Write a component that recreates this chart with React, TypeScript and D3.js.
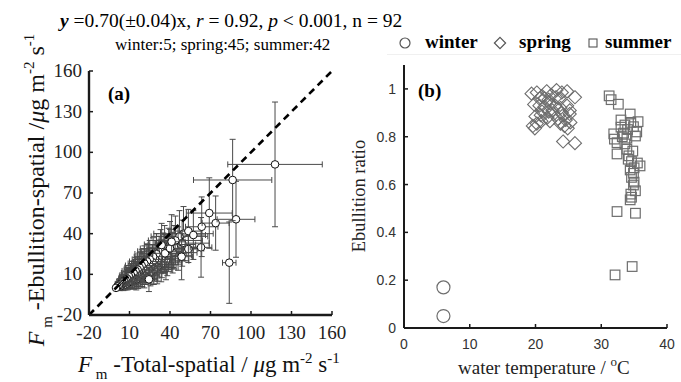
import React from "react";
import * as d3 from "d3";

// ---------- Panel (a) data: Fm-Total-spatial vs Fm-Ebullition-spatial ----------
const totalSpatial = [
  117.8, 86.4, 88.9, 83.9, 69.1, 73.8, 63.5, 63, 57.3, 53.6, 48.6, 53.6, 24.4, 41.2, 33.8, 40, 36.3, 0,
  1, 2, 2.5, 3, 3.5, 4, 4.5, 5, 5.5, 6,
  6, 7, 7, 7.5, 8, 8.5, 9, 9.5, 10, 10,
  11, 11, 12, 12.5, 13, 13.5, 14, 14.5, 15, 15.5,
  16, 16.5, 17, 17.5, 18, 18.5, 19, 19.5, 20, 21,
  21, 22, 22.5, 23, 24, 24.5, 25, 25.5, 26, 27,
  27.5, 28, 28.5, 29, 30, 30.5, 31, 32, 33, 33.5,
  34, 35, 36, 37, 38, 39, 40, 42, 43, 44,
  46, 47, 49, 50,
];
const ebullitionSpatial = [
  91.1, 79.6, 50.6, 18.6, 55.2, 47.8, 45.1, 29.9, 39, 41.9, 23, 28.7, 6.3, 34, 31.6, 29.2, 25.5, 0,
  1, 1.5, 2.5, 1, 3, 2, 4.5, 3, 2, 5,
  3.5, 6, 2.5, 4.5, 7, 3.5, 6, 8.5, 4.5, 7.5,
  5.5, 9.5, 8, 6, 11, 7.5, 9.5, 12.5, 6.5, 10,
  13.5, 8.5, 11.5, 15, 9.5, 13, 16.5, 11, 14.5, 18,
  9, 12.5, 16, 19.5, 14, 17.5, 21, 11.5, 15.5, 19,
  23, 13.5, 17, 21, 25, 15, 19, 23, 27, 17.5,
  21.5, 25.5, 29, 20, 24, 28, 32, 26, 30, 35,
  29, 38, 33, 40,
];
const totalErr = [
  35, 29, 14, 5, 17, 10, 12, 8, 9, 10, 8, 7, 6, 10, 10, 9, 9, 1,
  2, 3, 3, 3, 4, 4, 4, 4, 4, 5,
  4, 5, 5, 5, 6, 5, 6, 7, 6, 7,
  7, 8, 8, 8, 9, 8, 9, 10, 8, 9,
  10, 9, 10, 11, 10, 11, 12, 11, 12, 12,
  11, 12, 12, 13, 13, 13, 13, 12, 13, 14,
  14, 13, 14, 15, 16, 14, 15, 16, 17, 15,
  17, 17, 18, 17, 18, 18, 19, 18, 19, 20,
  19, 21, 20, 22,
];
const ebullitionErr = [
  46, 30, 28, 30, 26, 20, 22, 22, 18, 16, 17, 10, 9, 20, 16, 14, 14, 1,
  2, 3, 4, 3, 4, 3, 5, 4, 4, 5,
  4, 6, 4, 5, 7, 5, 7, 8, 5, 7,
  6, 8, 8, 7, 9, 8, 9, 10, 8, 9,
  10, 9, 10, 11, 9, 10, 12, 10, 12, 13,
  9, 10, 12, 13, 11, 12, 14, 10, 12, 13,
  14, 11, 12, 14, 15, 12, 14, 15, 16, 13,
  14, 15, 17, 14, 15, 16, 17, 15, 16, 18,
  16, 19, 17, 20,
];
const ticksA = [-20, 10, 40, 70, 100, 130, 160];

// ---------- Panel (b) data: water temperature vs ebullition ratio ----------
const winterTemp = [6, 6];
const winterRatio = [0.17, 0.05];
const springTemp = [
  19.4, 20.2, 21.0, 21.7, 22.4, 23.2, 24.0, 24.8, 26.0, 20.6, 22.0, 23.6,
  19.8, 20.6, 21.4, 22.2, 23.0, 23.8, 24.8, 25.2, 21.0, 22.6,
  20.0, 20.8, 21.8, 22.8, 23.4, 24.2, 25.2, 24.6, 22.2,
  19.6, 20.2, 20.9, 23.8, 24.4, 25.3, 19.9, 24.9,
  24.2, 26.0, 21.4, 23.1, 22.0, 24.0,
];
const springRatio = [
  0.98, 0.985, 0.97, 0.99, 0.975, 0.995, 0.985, 0.99, 0.965, 0.96, 0.955, 0.96,
  0.935, 0.93, 0.925, 0.94, 0.93, 0.92, 0.93, 0.91, 0.905, 0.91,
  0.885, 0.89, 0.88, 0.895, 0.875, 0.89, 0.895, 0.87, 0.865,
  0.845, 0.855, 0.865, 0.855, 0.845, 0.86, 0.835, 0.835,
  0.78, 0.773, 0.96, 0.965, 0.905, 0.9,
];
const summerTemp = [
  31.2, 32.6, 34.4, 35.6, 33.6, 34.9, 31.9, 33.4, 35.2, 33.9, 32.4, 33.9, 32.4, 34.1, 34.6, 35.9,
  34.9, 34.4, 34.9, 35.2, 34.6, 34.4, 32.4, 35.2, 32.1, 34.7,
  31.5, 33.0, 34.0, 34.5, 33.2, 32.0, 33.6, 34.8, 34.2, 35.5, 35.0, 34.6, 35.0, 34.5, 33.0, 35.4,
];
const summerRatio = [
  0.971, 0.936, 0.895, 0.863, 0.849, 0.842, 0.812, 0.815, 0.803, 0.794, 0.775, 0.748, 0.728, 0.706,
  0.696, 0.678, 0.647, 0.661, 0.598, 0.574, 0.547, 0.536, 0.487, 0.48, 0.222, 0.257,
  0.955, 0.87, 0.83, 0.86, 0.8, 0.79, 0.77, 0.74, 0.72, 0.69, 0.67, 0.63, 0.61, 0.56, 0.84, 0.82,
];
const ticksBX = [0, 10, 20, 30, 40];
const ticksBY = [0, 0.2, 0.4, 0.6, 0.8, 1];

const SERIF = "'Liberation Serif', 'Times New Roman', serif";
const SANS = "'Liberation Sans', Arial, sans-serif";
const AXIS = "#1a1a1a";
const MARK = "#6e6e6e";

export default function App() {
  // Panel (a) scales
  const xA = d3.scaleLinear().domain([-20, 160]).range([89, 332]);
  const yA = d3.scaleLinear().domain([-20, 160]).range([315, 71]);
  // Panel (b) scales
  const xB = d3.scaleLinear().domain([0, 40]).range([404, 667]);
  const yB = d3.scaleLinear().domain([0, 1.1]).range([328, 65]);

  const oneToOne = d3.line<number>().x((v) => xA(v)).y((v) => yA(v))([-20, 160]);
  const cap = 3;
  const diamond = d3.symbol().type(d3.symbolDiamond2).size(110)();
  const order = d3.range(totalSpatial.length).reverse();

  return (
    <svg
      width={681}
      height={382}
      style={{ position: "absolute", left: 0, top: 0, background: "#fff" }}
    >
      {/* Title */}
      <text x={60} y={27} fontFamily={SERIF} fontSize={19.5} fill="#000">
        <tspan fontWeight="bold" fontStyle="italic">y</tspan>
        {" =0.70(±0.04)x, "}
        <tspan fontStyle="italic">r</tspan>
        {" = 0.92, "}
        <tspan fontStyle="italic">p</tspan>
        {" < 0.001, n = 92"}
      </text>
      <text x={115} y={50} fontFamily={SERIF} fontSize={17} fill="#000">
        winter:5; spring:45; summer:42
      </text>

      {/* Legend */}
      <line x1={387} x2={681} y1={54.5} y2={54.5} stroke="#f0f0f0" strokeWidth={1} />
      <circle cx={405} cy={43} r={5} fill="none" stroke="#555" strokeWidth={1.2} />
      <text x={425} y={48} fontFamily={SERIF} fontSize={19} fontWeight="bold">winter</text>
      <path d={d3.symbol().type(d3.symbolDiamond2).size(80)() as string} transform="translate(500,43)" fill="none" stroke="#555" strokeWidth={1.2} />
      <text x={519} y={48} fontFamily={SERIF} fontSize={19} fontWeight="bold">spring</text>
      <rect x={589} y={39} width={8} height={8} fill="none" stroke="#555" strokeWidth={1.1} />
      <text x={605} y={48} fontFamily={SERIF} fontSize={19} fontWeight="bold">summer</text>

      {/* ================= Panel (a) ================= */}
      <g>
        {/* error bars + points, drawn point by point */}
        {order.map((i) => {
          const tx = totalSpatial[i];
          const ey = ebullitionSpatial[i];
          const cx = xA(tx);
          const cy = yA(ey);
          const x0 = xA(tx - totalErr[i]);
          const x1 = xA(tx + totalErr[i]);
          const y0 = yA(ey - ebullitionErr[i]);
          const y1 = yA(ey + ebullitionErr[i]);
          return (
            <g key={"e" + i}>
              <g stroke="#4a4a4a" strokeWidth={1} fill="none">
                <line x1={cx} x2={cx} y1={y0} y2={y1} />
                <line x1={cx - cap} x2={cx + cap} y1={y0} y2={y0} />
                <line x1={cx - cap} x2={cx + cap} y1={y1} y2={y1} />
                <line x1={x0} x2={x1} y1={cy} y2={cy} />
                <line x1={x0} x2={x0} y1={cy - cap} y2={cy + cap} />
                <line x1={x1} x2={x1} y1={cy - cap} y2={cy + cap} />
              </g>
              <circle cx={cx} cy={cy} r={3.8} fill="#fff" stroke="#111" strokeWidth={1} />
            </g>
          );
        })}
        {/* 1:1 line */}
        <path d={oneToOne as string} stroke="#000" strokeWidth={2.6} strokeDasharray="7,5" fill="none" />
        {/* axes */}
        <line x1={89} x2={332} y1={315} y2={315} stroke={AXIS} strokeWidth={2.4} />
        <line x1={89} x2={89} y1={71} y2={315} stroke={AXIS} strokeWidth={2.4} />
        {ticksA.map((t) => (
          <g key={"ta" + t}>
            <line x1={xA(t)} x2={xA(t)} y1={315} y2={311} stroke={AXIS} strokeWidth={1.5} />
            <line x1={89} x2={93} y1={yA(t)} y2={yA(t)} stroke={AXIS} strokeWidth={1.5} />
            <text x={xA(t)} y={339} textAnchor="middle" fontFamily={SERIF} fontSize={19} fill="#222">
              {t}
            </text>
            <text x={82} y={yA(t) + 6} textAnchor="end" fontFamily={SERIF} fontSize={19} fill="#222">
              {t}
            </text>
          </g>
        ))}
        <text x={108} y={100} fontFamily={SERIF} fontSize={19} fontWeight="bold">(a)</text>

        {/* x label */}
        <text x={78} y={372} fontFamily={SERIF} fontSize={23} fill="#111">
          <tspan fontStyle="italic">F</tspan>
          <tspan fontSize={15} dy={7}>{" m"}</tspan>
          <tspan dy={-7}>{" -Total-spatial / "}</tspan>
          <tspan fontStyle="italic">μ</tspan>
          <tspan>{"g m"}</tspan>
          <tspan fontSize={15} dy={-9}>{"-2"}</tspan>
          <tspan dy={9}>{" s"}</tspan>
          <tspan fontSize={15} dy={-9}>{"-1"}</tspan>
        </text>
        {/* y label */}
        <text
          transform="translate(44,190) rotate(-90)"
          textAnchor="middle"
          fontFamily={SERIF}
          fontSize={24}
          fill="#111"
        >
          <tspan fontStyle="italic">F</tspan>
          <tspan fontSize={15} dy={8}>{" m"}</tspan>
          <tspan dy={-8}>{" -Ebullition-spatial /"}</tspan>
          <tspan fontStyle="italic">μ</tspan>
          <tspan>{"g m"}</tspan>
          <tspan fontSize={15} dy={-10}>{"-2"}</tspan>
          <tspan dy={10}>{" s"}</tspan>
          <tspan fontSize={15} dy={-10}>{"-1"}</tspan>
        </text>
      </g>

      {/* ================= Panel (b) ================= */}
      <g>
        {winterTemp.map((t, i) => (
          <circle key={"w" + i} cx={xB(t)} cy={yB(winterRatio[i])} r={6.5} fill="none" stroke={MARK} strokeWidth={1.2} />
        ))}
        {springTemp.map((t, i) => (
          <path
            key={"s" + i}
            d={diamond as string}
            transform={`translate(${xB(t)},${yB(springRatio[i])})`}
            fill="none"
            stroke={MARK}
            strokeWidth={1.1}
          />
        ))}
        {summerTemp.map((t, i) => (
          <rect
            key={"u" + i}
            x={xB(t) - 4.8}
            y={yB(summerRatio[i]) - 4.8}
            width={9.6}
            height={9.6}
            fill="none"
            stroke={MARK}
            strokeWidth={1.2}
          />
        ))}
        <line x1={404} x2={667} y1={328} y2={328} stroke={AXIS} strokeWidth={2} />
        <line x1={404} x2={404} y1={65} y2={328} stroke={AXIS} strokeWidth={2} />
        {ticksBX.map((t) => (
          <g key={"bx" + t}>
            <line x1={xB(t)} x2={xB(t)} y1={328} y2={324} stroke={AXIS} strokeWidth={1.5} />
            <text x={xB(t)} y={349} textAnchor="middle" fontFamily={SANS} fontSize={14} fill="#333">
              {t}
            </text>
          </g>
        ))}
        {ticksBY.map((t) => (
          <g key={"by" + t}>
            <line x1={404} x2={408} y1={yB(t)} y2={yB(t)} stroke={AXIS} strokeWidth={1.5} />
            <text x={396} y={yB(t) + 5} textAnchor="end" fontFamily={SANS} fontSize={14} fill="#333">
              {t}
            </text>
          </g>
        ))}
        <text x={418} y={97} fontFamily={SERIF} fontSize={19} fontWeight="bold">(b)</text>
        <text x={458} y={374} fontFamily={SERIF} fontSize={19} fill="#222">
          {"water temperature / "}
          <tspan fontSize={13} dy={-8}>o</tspan>
          <tspan dy={8}>C</tspan>
        </text>
        <text
          transform="translate(365,196) rotate(-90)"
          textAnchor="middle"
          fontFamily={SERIF}
          fontSize={18.5}
          fill="#222"
        >
          Ebullition ratio
        </text>
      </g>
    </svg>
  );
}
